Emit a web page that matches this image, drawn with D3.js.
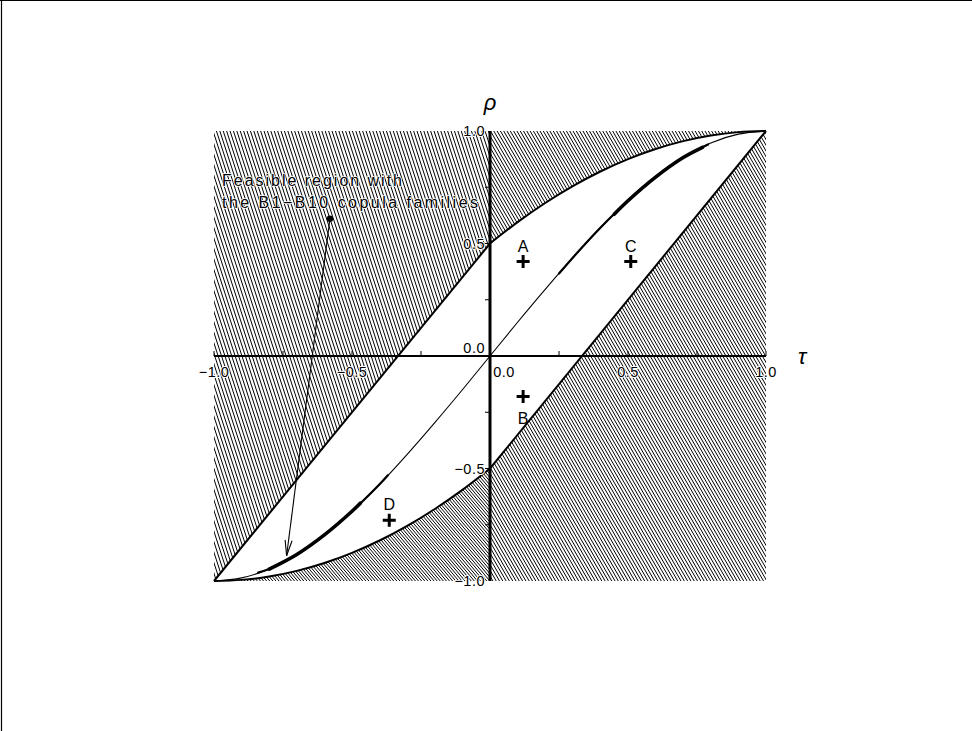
<!DOCTYPE html>
<html>
<head>
<meta charset="utf-8">
<script src="https://cdn.jsdelivr.net/npm/d3@7"></script>
<style>
  body { margin: 0; background: #fff; }
  svg { display: block; }
  text { font-family: "Liberation Sans", Arial, sans-serif; fill: #000; }
</style>
</head>
<body>
<svg id="chart" width="972" height="731"></svg>
<script>
// ---- data ----
const upperNeg = [[-1, -1], [0, 0.5]];                                  // upper bound, tau < 0
const upperPosTau = [0, 0.1, 0.2, 0.3, 0.4, 0.5, 0.6, 0.7, 0.8, 0.9, 1];
const upperPosRho = [0.5, 0.595, 0.68, 0.755, 0.82, 0.875, 0.92, 0.955, 0.98, 0.995, 1];
const lowerNegTau = [-1, -0.9, -0.8, -0.7, -0.6, -0.5, -0.4, -0.3, -0.2, -0.1, 0];
const lowerNegRho = [-1, -0.995, -0.98, -0.955, -0.92, -0.875, -0.82, -0.755, -0.68, -0.595, -0.5];
const lowerPos = [[0, -0.5], [1, 1]];                                   // lower bound, tau >= 0
const midTau = [-1, -0.9, -0.8, -0.7, -0.6, -0.5, -0.4, -0.3, -0.2, -0.1, 0, 0.1, 0.2, 0.3, 0.4, 0.5, 0.6, 0.7, 0.8, 0.9, 1];
const midRho = [-1, -0.986, -0.947, -0.882, -0.795, -0.690, -0.570, -0.437, -0.296, -0.150, 0, 0.150, 0.296, 0.437, 0.570, 0.690, 0.795, 0.882, 0.947, 0.986, 1];
const thickRanges = [[-0.84, -0.37, 2.2], [-0.80, -0.47, 3.6], [0.25, 0.79, 2.2], [0.45, 0.77, 3.6]];
const pointNames = ["A", "B", "C", "D"];
const pointTau = [0.12, 0.12, 0.51, -0.365];
const pointRho = [0.42, -0.18, 0.42, -0.73];
const xTickValues = [-1, -0.75, -0.5, -0.25, 0, 0.25, 0.5, 0.75, 1];
const xTickLabels = ["\u22121.0", "\u22120.5", "0.0", "0.5", "1.0"];
const xLabelValues = [-1, -0.5, 0, 0.5, 1];
const yTickValues = [-0.75, -0.5, -0.25, 0.25, 0.5, 0.75];
const yLabelValues = [1, 0.5, 0, -0.5, -1];
const yTickLabels = ["1.0", "0.5", "0.0", "\u22120.5", "\u22121.0"];
const annotationLines = ["Feasible region with", "the B1\u2212B10 copula families"];
const arrowFrom = [-0.58, 0.61];
const arrowTo = [-0.737, -0.888];

// ---- scales ----
const svg = d3.select("#chart");
const x = d3.scaleLinear().domain([-1, 1]).range([214, 766]);
const y = d3.scaleLinear().domain([-1, 1]).range([581, 131]);

// frame
svg.append("line").attr("x1", 0).attr("x2", 972).attr("y1", 0.5).attr("y2", 0.5).attr("stroke", "#000").attr("stroke-width", 1.2);
svg.append("line").attr("x1", 1.5).attr("x2", 1.5).attr("y1", 0).attr("y2", 731).attr("stroke", "#000").attr("stroke-width", 1.2);

const defs = svg.append("defs");
const line = d3.line().x(d => x(d[0])).y(d => y(d[1]));
const curveLine = d3.line().x(d => x(d[0])).y(d => y(d[1])).curve(d3.curveMonotoneX);

const upperPos = upperPosTau.map((t, i) => [t, upperPosRho[i]]);
const lowerNeg = lowerNegTau.map((t, i) => [t, lowerNegRho[i]]);
const mid = midTau.map((t, i) => [t, midRho[i]]);

const regions = [
  { id: "cTL", d: line(upperNeg.concat([[0, 1], [-1, 1]])) + "Z", angle: 72, pitch: 3.4 },
  { id: "cTR", d: curveLine(upperPos) + `L${x(0)},${y(1)}Z`, angle: 60, pitch: 3.3 },
  { id: "cBR", d: line(lowerPos.concat([[1, -1], [0, -1]])) + "Z", angle: 60, pitch: 3.3 },
  { id: "cBL", d: curveLine(lowerNeg) + `L${x(0)},${y(-1)}Z`, angle: 50, pitch: 3.1 }
];
regions.forEach(r => {
  defs.append("clipPath").attr("id", r.id).append("path").attr("d", r.d);
  const gH = svg.append("g").attr("clip-path", `url(#${r.id})`);
  const h = 470, dx = h / Math.tan(r.angle * Math.PI / 180);
  const starts = d3.range(214 - dx - 10, 770, r.pitch);
  gH.selectAll("line").data(starts).enter().append("line")
    .attr("x1", d => d).attr("y1", 125).attr("x2", d => d + dx).attr("y2", 125 + h)
    .attr("stroke", "#000").attr("stroke-width", 1.0);
});

// boundaries
[line(upperNeg), curveLine(upperPos), curveLine(lowerNeg), line(lowerPos)].forEach(d =>
  svg.append("path").attr("d", d).attr("fill", "none").attr("stroke", "#000").attr("stroke-width", 2));

// middle curve
const midCurve = d3.line().x(d => x(d[0])).y(d => y(d[1])).curve(d3.curveCatmullRom);
svg.append("path").attr("d", midCurve(mid)).attr("fill", "none").attr("stroke", "#000").attr("stroke-width", 1.1);
const interp = t => {
  for (let i = 0; i < midTau.length - 1; i++) {
    if (t >= midTau[i] && t <= midTau[i + 1]) {
      const f = (t - midTau[i]) / (midTau[i + 1] - midTau[i]);
      return midRho[i] + f * (midRho[i + 1] - midRho[i]);
    }
  }
  return 0;
};
thickRanges.forEach(([a, b, w]) => {
  const inner = midTau.map((t, i) => [t, midRho[i]]).filter(p => p[0] > a && p[0] < b);
  const seg = [[a, interp(a)]].concat(inner).concat([[b, interp(b)]]);
  svg.append("path").attr("d", midCurve(seg)).attr("fill", "none").attr("stroke", "#000")
    .attr("stroke-width", w).attr("stroke-linecap", "round");
});

// axes
svg.append("line").attr("x1", x(-1)).attr("x2", x(1)).attr("y1", y(0)).attr("y2", y(0)).attr("stroke", "#000").attr("stroke-width", 2);
svg.append("line").attr("x1", x(0)).attr("x2", x(0)).attr("y1", y(1)).attr("y2", y(-1)).attr("stroke", "#000").attr("stroke-width", 3);
svg.selectAll(".xt").data(xTickValues).enter().append("line")
  .attr("x1", d => x(d)).attr("x2", d => x(d)).attr("y1", y(0)).attr("y2", y(0) - 5)
  .attr("stroke", "#000").attr("stroke-width", 1);
svg.selectAll(".yt").data(yTickValues).enter().append("line")
  .attr("x1", x(0)).attr("x2", x(0) - 5).attr("y1", d => y(d)).attr("y2", d => y(d))
  .attr("stroke", "#000").attr("stroke-width", 1);

const halo = (sel, w) => sel.attr("stroke", "#fff").attr("stroke-width", w).attr("paint-order", "stroke").attr("stroke-linejoin", "round");

svg.selectAll(".xl").data(xLabelValues).enter().append("text")
  .attr("x", d => d === 0 ? x(d) + 14 : x(d)).attr("y", y(0) + 21)
  .attr("text-anchor", "middle").attr("font-size", 14.5).attr("letter-spacing", 0.5)
  .call(halo, 2).text((d, i) => xTickLabels[i]);
svg.selectAll(".yl").data(yLabelValues).enter().append("text")
  .attr("x", x(0) - 5).attr("y", d => d === 0 ? y(0) - 3 : y(d) + 5)
  .attr("text-anchor", "end").attr("font-size", 14.5).attr("letter-spacing", 0.5)
  .call(halo, 2).text((d, i) => yTickLabels[i]);

// axis titles
svg.append("text").attr("x", x(0)).attr("y", 110).attr("text-anchor", "middle")
  .attr("font-size", 22).attr("font-style", "italic").attr("font-family", "DejaVu Serif").text("\u03C1");
svg.append("text").attr("x", 802).attr("y", y(0) + 8).attr("text-anchor", "middle")
  .attr("font-size", 22).attr("font-style", "italic").attr("font-family", "DejaVu Serif").text("\u03C4");

// points
const pts = pointNames.map((n, i) => ({ n, t: pointTau[i], r: pointRho[i] }));
const g = svg.selectAll(".pt").data(pts).enter().append("g");
g.append("path").attr("d", d => `M${x(d.t) - 6.5},${y(d.r)}H${x(d.t) + 6.5}M${x(d.t)},${y(d.r) - 6.5}V${y(d.r) + 6.5}`)
  .attr("stroke", "#000").attr("stroke-width", 3);
g.append("text").attr("x", d => x(d.t)).attr("y", d => d.n === "B" ? y(d.r) + 27 : y(d.r) - 10)
  .attr("text-anchor", "middle").attr("font-size", 16).attr("font-family", "DejaVu Sans").text(d => d.n);

// annotation
svg.selectAll(".ann").data(annotationLines).enter().append("text")
  .attr("x", 222).attr("y", (d, i) => 186 + i * 22)
  .attr("font-size", 16).attr("textLength", (d, i) => i === 0 ? 180 : 256).attr("lengthAdjust", "spacing")
  .call(halo, 1.6).text(d => d);

// arrow
const ax0 = x(arrowFrom[0]), ay0 = y(arrowFrom[1]), ax1 = x(arrowTo[0]), ay1 = y(arrowTo[1]);
svg.append("circle").attr("cx", ax0).attr("cy", ay0).attr("r", 3.2).attr("fill", "#000");
svg.append("line").attr("x1", ax0).attr("y1", ay0).attr("x2", ax1).attr("y2", ay1).attr("stroke", "#000").attr("stroke-width", 1.1);
const ang = Math.atan2(ay1 - ay0, ax1 - ax0);
const hl = 16, ha = 0.22;
const hp = d3.path();
hp.moveTo(ax1 - hl * Math.cos(ang - ha), ay1 - hl * Math.sin(ang - ha));
hp.lineTo(ax1, ay1);
hp.lineTo(ax1 - hl * Math.cos(ang + ha), ay1 - hl * Math.sin(ang + ha));
svg.append("path").attr("d", hp.toString()).attr("fill", "none").attr("stroke", "#000").attr("stroke-width", 1.1);
</script>
</body>
</html>
